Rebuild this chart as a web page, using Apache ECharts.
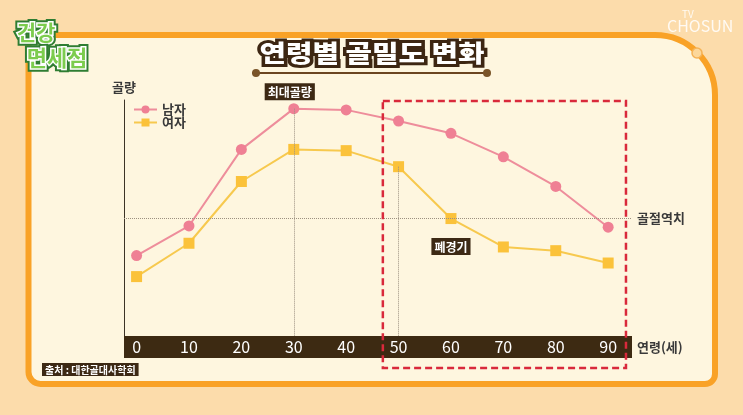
<!DOCTYPE html>
<html>
<head>
<meta charset="utf-8">
<script src="https://cdn.jsdelivr.net/npm/echarts@6/dist/echarts.min.js"></script>
<style>
  html, body { margin: 0; padding: 0; }
  #chart { width: 743px; height: 415px; }
</style>
</head>
<body>
<div id="chart"></div>
<script>
const ages = [0, 10, 20, 30, 40, 50, 60, 70, 80, 90];
const maleBone = [37, 49, 80, 96.5, 96, 91.5, 86.5, 77, 65, 48.5];
const femaleBone = [28.5, 42, 67, 80, 79.5, 73, 52, 40.5, 39, 34];
const fractureThreshold = 52;
const peakAge = 30;
const menopauseAge = 50;
const menopauseLabelAge = 60;
// dashed box around the post-menopause part, in axis units
const menopauseBoxX = [47, 93.4];
const menopauseBoxY = [-8.5, 99.6];

const FONT = '"Noto Sans CJK KR", "Noto Sans", sans-serif';
const DARK = '#3d2914';

function tagLabel(text, extra) {
    return Object.assign({
        show: true,
        formatter: text,
        backgroundColor: DARK,
        color: '#fff',
        fontFamily: FONT,
        fontWeight: 'bold',
        fontSize: 12,
        padding: [3, 3, 2, 3]
    }, extra);
}

function outlinedText(id, x, y, text, font, fill, layers, extra) {
    const els = layers.map((l, i) => Object.assign({
        type: 'text', id: id + '_' + i, silent: true, x: x, y: y,
        style: { text: text, font: font, fill: l.fill || l.stroke, stroke: l.stroke, lineWidth: l.width,
                 textAlign: 'center', textVerticalAlign: 'middle', align: 'center', verticalAlign: 'middle' }
    }, extra));
    els.push(Object.assign({
        type: 'text', id: id + '_top', silent: true, x: x, y: y,
        style: { text: text, font: font, fill: fill,
                 textAlign: 'center', textVerticalAlign: 'middle', align: 'center', verticalAlign: 'middle' }
    }, extra));
    return els;
}

function render_chart() {
    const chart = echarts.init(document.getElementById('chart'));

    const maleData = ages.map((a, i) => {
        if (a === peakAge) {
            return { value: [a, maleBone[i]], label: tagLabel('최대골량', { position: 'top', distance: 3, offset: [-4, 0] }) };
        }
        return [a, maleBone[i]];
    });
    const femaleData = ages.map((a, i) => {
        if (a === menopauseLabelAge) {
            return { value: [a, femaleBone[i]], label: tagLabel('폐경기', { position: 'bottom', distance: 14 }) };
        }
        return [a, femaleBone[i]];
    });

    const dotted = { type: 'dotted', color: '#9c9080', width: 1 };

    const graphics = [
        {
            type: 'rect', id: 'panel', z: -10, silent: true,
            shape: { x: 28.5, y: 35, width: 686.5, height: 349, r: [4, 60, 10, 12] },
            style: { fill: '#fef6df', stroke: '#f9a227', lineWidth: 6 }
        },
        {
            type: 'circle', id: 'knob', z: -9, silent: true,
            shape: { cx: 697, cy: 53, r: 5 },
            style: { fill: '#fcd79a', stroke: '#f5b255', lineWidth: 1.5 }
        },
        {
            type: 'line', id: 'rule', silent: true,
            shape: { x1: 252, y1: 73, x2: 490, y2: 73 },
            style: { stroke: '#6b4520', lineWidth: 2 }
        },
        {
            type: 'circle', id: 'ruleL', silent: true,
            shape: { cx: 256, cy: 73, r: 4 },
            style: { fill: '#7a5428' }
        },
        {
            type: 'circle', id: 'ruleR', silent: true,
            shape: { cx: 487, cy: 73, r: 4 },
            style: { fill: '#7a5428' }
        },
        {
            type: 'text', id: 'tv', silent: true, left: 682, top: 9,
            style: { text: 'TV', font: '10px ' + FONT, fill: 'rgba(255,255,255,0.85)' }
        },
        {
            type: 'text', id: 'chosun', silent: true, left: 667, top: 18,
            style: { text: 'CHOSUN', font: '16px ' + FONT, fill: 'rgba(255,255,255,0.85)' }
        }
    ].concat(
        outlinedText('title', 372, 53, '연령별 골밀도 변화', '900 24px ' + FONT, '#fff',
            [{ stroke: '#3d2612', width: 6 }], { scaleX: 1.2 }),
        outlinedText('logo1', 36, 32, '건강', 'bold 21px ' + FONT, '#7ccc4e',
            [{ stroke: '#2f7d32', width: 7 }, { stroke: '#ffffff', width: 3 }]),
        outlinedText('logo2', 57, 58, '면세점', 'bold 22px ' + FONT, '#7ccc4e',
            [{ stroke: '#2f7d32', width: 7 }, { stroke: '#ffffff', width: 3 }])
    );

    chart.setOption({
        animation: false,
        backgroundColor: '#fcdcab',
        textStyle: { fontFamily: FONT },
        title: {
            text: '출처 : 대한골대사학회',
            left: 42,
            top: 363,
            padding: [2, 3, 1, 3],
            backgroundColor: DARK,
            textStyle: { fontFamily: FONT, fontSize: 10, fontWeight: 'bold', color: '#fff' }
        },
        legend: {
            data: ['남자', '여자'],
            orient: 'vertical',
            left: 133,
            top: 103,
            padding: 0,
            itemWidth: 23,
            itemHeight: 10,
            itemGap: 0,
            textStyle: { fontFamily: FONT, fontSize: 13, fontWeight: 'bold', color: '#3a3a3a' }
        },
        grid: { left: 124, right: 111, top: 100, bottom: 68 },
        xAxis: {
            type: 'value',
            min: -2.4,
            max: 94.55,
            z: 10,
            name: '연령(세)',
            nameLocation: 'end',
            nameGap: 5,
            nameTextStyle: { fontFamily: FONT, fontSize: 13, fontWeight: 'bold', color: '#3a3a3a' },
            axisLine: { show: true, onZero: false, lineStyle: { color: '#3d2a12', width: 22, cap: 'butt' } },
            axisTick: { show: false },
            splitLine: { show: false },
            axisLabel: {
                customValues: ages,
                margin: 0,
                verticalAlign: 'middle',
                color: '#fff',
                fontSize: 16,
                fontFamily: FONT
            }
        },
        yAxis: {
            type: 'value',
            min: 0,
            max: 100,
            z: 1,
            axisLine: { show: true, onZero: false, lineStyle: { color: '#3c3326', width: 1 } },
            axisTick: { show: false },
            axisLabel: { show: false },
            splitLine: { show: false }
        },
        series: [
            {
                name: '남자',
                type: 'line',
                data: maleData,
                symbol: 'circle',
                symbolSize: 11,
                z: 4,
                lineStyle: { color: '#ee8d9b', width: 2 },
                itemStyle: { color: '#ef8094' },
                markLine: {
                    silent: true,
                    symbol: 'none',
                    label: { show: false },
                    lineStyle: dotted,
                    data: [[
                        { coord: [peakAge, maleBone[ages.indexOf(peakAge)]] },
                        { coord: [peakAge, 0] }
                    ]]
                }
            },
            {
                name: '여자',
                type: 'line',
                data: femaleData,
                symbol: 'rect',
                symbolSize: 11,
                z: 3,
                lineStyle: { color: '#f7c94e', width: 2 },
                itemStyle: { color: '#fbc23a' },
                markLine: {
                    silent: true,
                    symbol: 'none',
                    label: { show: false },
                    lineStyle: dotted,
                    data: [
                        [
                            { coord: [menopauseAge, femaleBone[ages.indexOf(menopauseAge)]] },
                            { coord: [menopauseAge, 0] }
                        ],
                        {
                            yAxis: fractureThreshold,
                            label: {
                                show: true, position: 'end', distance: 5, formatter: '골절역치',
                                color: '#3a3a3a', fontSize: 13, fontWeight: 'bold', fontFamily: FONT
                            }
                        }
                    ]
                }
            }
        ],
        graphic: graphics
    });

    // dashed box and y-axis title, placed from axis units
    const p1 = chart.convertToPixel({ gridIndex: 0 }, [menopauseBoxX[0], menopauseBoxY[1]]);
    const p2 = chart.convertToPixel({ gridIndex: 0 }, [menopauseBoxX[1], menopauseBoxY[0]]);
    const yTop = chart.convertToPixel({ gridIndex: 0 }, [-2.4, 100]);
    chart.setOption({
        graphic: graphics.concat([
            {
                type: 'rect', id: 'menopauseBox', z: 20, silent: true,
                shape: { x: p1[0], y: p1[1], width: p2[0] - p1[0], height: p2[1] - p1[1] },
                style: { fill: 'none', stroke: '#d9293b', lineWidth: 2.5, lineDash: [7, 4] }
            },
            {
                type: 'text', id: 'yName', silent: true, x: yTop[0], y: yTop[1] - 13,
                style: { text: '골량', font: 'bold 13px ' + FONT, fill: '#3a3a3a',
                         textAlign: 'center', textVerticalAlign: 'middle', align: 'center', verticalAlign: 'middle' }
            }
        ])
    });
}

window.addEventListener('load', render_chart);
</script>
</body>
</html>
